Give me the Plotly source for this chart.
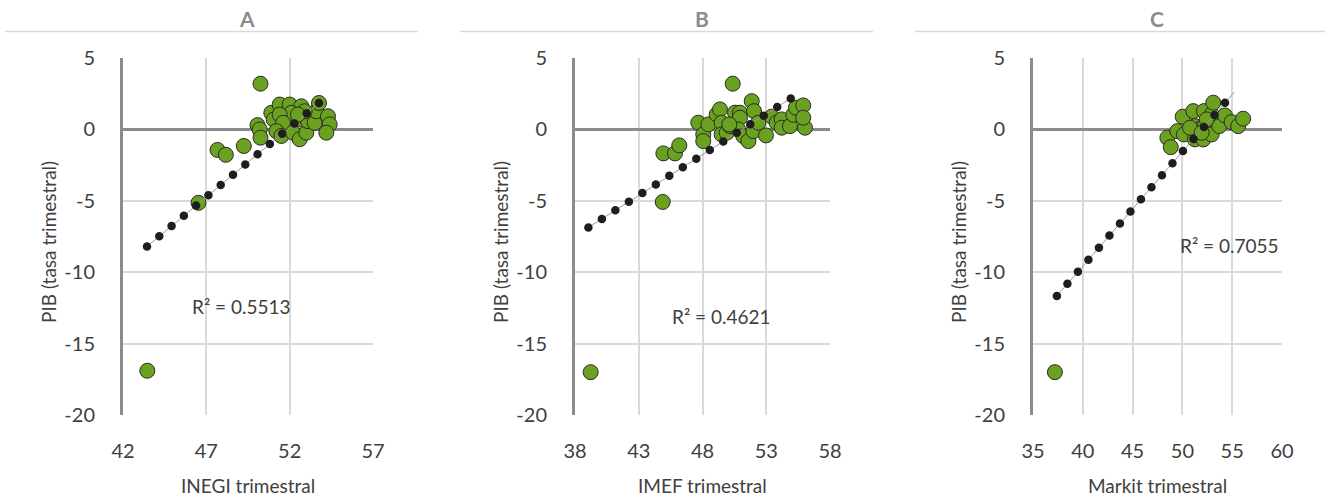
import plotly.graph_objects as go

# ---------------- data ----------------
panel_titles = ["A", "B", "C"]
x_titles = ["INEGI trimestral", "IMEF trimestral", "Markit trimestral"]
y_title = "PIB (tasa trimestral)"
r2_labels = ["R² = 0.5513", "R² = 0.4621", "R² = 0.7055"]

inegi_x = [50.25, 47.67, 48.17, 49.25, 46.53, 43.46, 50.07, 50.2, 50.25, 50.9, 51.04, 51.4,
           52.0, 52.7, 52.1, 51.4, 51.6, 51.2, 51.5, 52.2, 52.6, 53.0, 52.7, 53.1, 53.5,
           53.6, 53.76, 54.3, 54.4, 54.2, 52.9, 52.5]
inegi_y = [3.2, -1.44, -1.78, -1.16, -5.14, -16.9, 0.3, 0.0, -0.58, 1.16, 0.69, 1.74,
           1.74, 1.62, 1.16, 1.04, 0.46, -0.12, -0.46, -0.23, -0.69, -0.23, 0.69, 0.58, 0.46,
           1.27, 1.85, 0.92, 0.35, -0.23, 1.27, 1.04]

imef_x = [50.37, 44.93, 45.84, 46.18, 44.88, 39.23, 47.67, 48.06, 48.06, 48.46, 49.11, 49.37,
          49.5, 49.5, 49.9, 50.16, 50.55, 50.94, 50.94, 50.8, 51.2, 51.6, 51.86, 52.04, 51.99,
          52.38, 52.98, 53.43, 53.82, 54.21, 54.21, 54.86, 55.12, 55.33, 55.9, 56.04, 55.9, 50.1]
imef_y = [3.2, -1.68, -1.68, -1.12, -5.08, -17.0, 0.47, -0.35, -0.82, 0.35, 1.05, 1.4,
          0.47, -0.35, -0.23, 0.23, 1.17, 1.17, 0.82, 0.0, -0.47, -0.82, 1.98, 1.28, -0.12,
          0.47, -0.42, 0.89, 0.47, 0.7, 0.12, 0.23, 1.03, 1.52, 1.68, 0.12, 0.82, 0.35]

markit_x = [37.2, 48.49, 48.83, 49.49, 50.03, 50.16, 51.09, 51.26, 51.26, 51.6, 51.6, 52.1,
            52.17, 52.27, 52.94, 53.1, 52.94, 53.7, 54.27, 54.94, 55.6, 56.1, 50.76, 52.44, 51.93]
markit_y = [-17.0, -0.58, -1.24, -0.12, 0.89, -0.35, 1.28, 0.23, -0.7, 0.0, -0.35, -0.7,
            1.28, 0.35, 1.05, 1.87, -0.35, 0.23, 0.98, 0.51, 0.23, 0.75, 0.12, 0.7, -0.23]

# linear trendlines (end points)
trend_inegi_x = [43.44, 53.76]
trend_inegi_y = [-8.2, 1.85]
trend_imef_x = [39.05, 55.2]
trend_imef_y = [-6.87, 2.33]
trend_markit_x = [37.4, 55.2]
trend_markit_y = [-11.66, 2.6]

x_tickvals = [[42, 47, 52, 57], [38, 43, 48, 53, 58], [35, 40, 45, 50, 55, 60]]
x_ticktext = [["42", "47", "52", "57"], ["38", "43", "48", "53", "58"],
              ["35", "40", "45", "50", "55", "60"]]
y_tickvals = [-20, -15, -10, -5, 0, 5]
y_ticktext = ["-20", "-15", "-10", "-5", "0", "5"]

x_ranges = [[42, 57], [38, 58], [35, 60]]
y_range = [-20, 5]
r2_pos = [(49.1, -12.4), (49.5, -13.1), (54.7, -8.1)]

# ---------------- layout geometry ----------------
W, H = 1325, 499
plot_px = [(123, 373), (575, 830), (1033, 1282)]
title_line_px = [(5, 418), (460, 873), (915, 1325)]
title_cx_px = [247, 702, 1157]
ytitle_px = [48, 500, 958]
top_px, bot_px = 58, 415

GREEN = "#6AA11E"
FONT = "Lato"
TXT = "#404040"

fig = go.Figure()
series = [(inegi_x, inegi_y, trend_inegi_x, trend_inegi_y),
          (imef_x, imef_y, trend_imef_x, trend_imef_y),
          (markit_x, markit_y, trend_markit_x, trend_markit_y)]

annotations = []
shapes = []
for i, (sx, sy, tx, ty) in enumerate(series):
    xa = "x" if i == 0 else f"x{i+1}"
    ya = "y" if i == 0 else f"y{i+1}"
    fig.add_trace(go.Scatter(x=sx, y=sy, mode="markers", xaxis=xa, yaxis=ya,
                             marker=dict(size=15, color=GREEN,
                                         line=dict(color="#2b2b2b", width=1)),
                             showlegend=False, hoverinfo="x+y"))
    fig.add_trace(go.Scatter(x=tx, y=ty, mode="lines", xaxis=xa, yaxis=ya,
                             line=dict(color="#9a9a9a", width=1),
                             showlegend=False, hoverinfo="skip"))
    fig.add_trace(go.Scatter(x=tx, y=ty, mode="lines", xaxis=xa, yaxis=ya,
                             line=dict(color="#1e1e1e", width=8.5, dash="0px,16px"),
                             showlegend=False, hoverinfo="skip"))

    l, r = plot_px[i]
    dom_x = [l / W, r / W]
    dom_y = [(H - bot_px) / H, (H - top_px) / H]
    xkey = "xaxis" if i == 0 else f"xaxis{i+1}"
    ykey = "yaxis" if i == 0 else f"yaxis{i+1}"
    fig.update_layout(**{
        xkey: dict(domain=dom_x, range=x_ranges[i], tickmode="array",
                   tickvals=x_tickvals[i], ticktext=x_ticktext[i],
                   showgrid=True, gridcolor="#d9d9d9", gridwidth=1.5,
                   zeroline=False, showline=False, automargin=False,
                   ticks="outside", ticklen=18, tickcolor="rgba(0,0,0,0)",
                   tickfont=dict(family=FONT, size=20, color=TXT),
                   anchor=ya, fixedrange=True),
        ykey: dict(domain=dom_y, range=y_range, tickmode="array",
                   tickvals=y_tickvals, ticktext=y_ticktext,
                   showgrid=True, gridcolor="#d9d9d9", gridwidth=1.5,
                   zeroline=True, zerolinecolor="#8c8c8c", zerolinewidth=2.5,
                   showline=True, linecolor="#8c8c8c", linewidth=3, automargin=False,
                   ticks="outside", ticklen=21, tickcolor="rgba(0,0,0,0)",
                   tickfont=dict(family=FONT, size=20, color=TXT),
                   anchor=xa, fixedrange=True),
    })

    cx = (l + r) / 2 / W
    tl, tr = title_line_px[i]
    annotations.append(dict(xref="paper", yref="paper", x=title_cx_px[i] / W,
                            y=(H - 18) / H, text=f"<b>{panel_titles[i]}</b>", showarrow=False,
                            xanchor="center", yanchor="middle",
                            font=dict(family=FONT, size=21, color="#8c8c8c")))
    shapes.append(dict(type="line", xref="paper", yref="paper", x0=tl / W, x1=tr / W,
                       y0=(H - 31.5) / H, y1=(H - 31.5) / H,
                       line=dict(color="#d9d9d9", width=1.5)))
    annotations.append(dict(xref="paper", yref="paper", x=cx, y=(H - 485) / H,
                            text=x_titles[i], showarrow=False, xanchor="center", yanchor="middle",
                            font=dict(family=FONT, size=19, color=TXT)))
    annotations.append(dict(xref="paper", yref="paper", x=ytitle_px[i] / W, y=(H - 242) / H,
                            text=y_title, showarrow=False, textangle=-90,
                            xanchor="center", yanchor="middle",
                            font=dict(family=FONT, size=19, color=TXT)))
    annotations.append(dict(xref=xa, yref=ya, x=r2_pos[i][0], y=r2_pos[i][1],
                            text=r2_labels[i], showarrow=False, xanchor="center", yanchor="middle",
                            font=dict(family=FONT, size=19, color=TXT)))

fig.update_layout(width=W, height=H, margin=dict(l=0, r=0, t=0, b=0),
                  paper_bgcolor="white", plot_bgcolor="white",
                  annotations=annotations, shapes=shapes, showlegend=False)

post = """
var gd = document.getElementById('{plot_id}');
gd.querySelectorAll('.scatterlayer .js-line').forEach(function(p){
  p.style.strokeLinecap = 'round';
});
"""
fig.write_html("out.html", post_script=post, config={"displayModeBar": False})
